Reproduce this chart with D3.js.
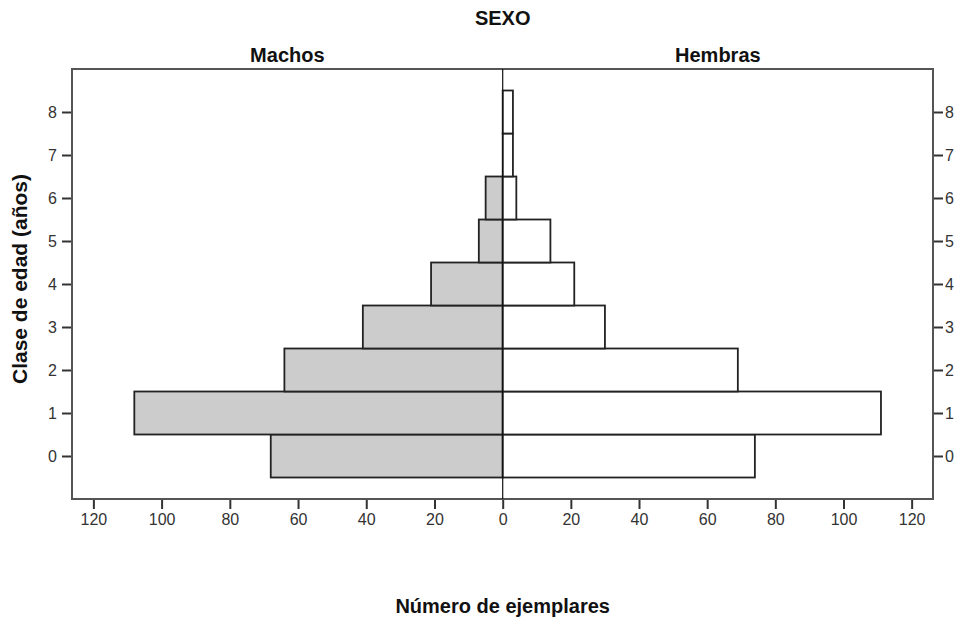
<!DOCTYPE html>
<html>
<head>
<meta charset="utf-8">
<script src="https://cdn.jsdelivr.net/npm/d3@7"></script>
<style>
  body { margin: 0; background: #fff; }
  svg { font-family: "Liberation Sans", Arial, sans-serif; }
  .tick text { fill: #333; font-size: 16px; }
</style>
</head>
<body>
<svg id="chart" width="960" height="619"></svg>
<script>
// edad (años) 0..8
const clases = [0, 1, 2, 3, 4, 5, 6, 7, 8];
const machos = [68, 108, 64, 41, 21, 7, 5, 0, 0];
const hembras = [74, 111, 69, 30, 21, 14, 4, 3, 3];
const xTicks = [0, 20, 40, 60, 80, 100, 120];

const svg = d3.select('#chart');
const pLeft = 72, pRight = 933, pTop = 69, pBottom = 499;
const mid = 502.7;
const maxX = (mid - pLeft) / 3.411;

const xL = d3.scaleLinear().domain([0, maxX]).range([mid, pLeft]);
const xR = d3.scaleLinear().domain([0, maxX]).range([mid, pRight]);
const y = d3.scaleLinear().domain([-1, 9]).range([pBottom, pTop]);

// bottom axes
const axL = svg.append('g').attr('transform', 'translate(0,' + pBottom + ')')
    .call(d3.axisBottom(xL).tickValues(xTicks).tickSize(10).tickPadding(5));
const axR = svg.append('g').attr('transform', 'translate(0,' + pBottom + ')')
    .call(d3.axisBottom(xR).tickValues(xTicks.slice(1)).tickSize(10).tickPadding(5));
// y axes (left and right)
const ayL = svg.append('g').attr('transform', 'translate(' + pLeft + ',0)')
    .call(d3.axisLeft(y).tickValues(clases).tickSize(10).tickPadding(5));
const ayR = svg.append('g').attr('transform', 'translate(' + pRight + ',0)')
    .call(d3.axisRight(y).tickValues(clases).tickSize(10).tickPadding(2));
[axL, axR, ayL, ayR].forEach(function(g){
    g.select('.domain').remove();
    g.selectAll('.tick line').attr('stroke', '#333').attr('stroke-width', 2);
});

// bars
const bh = y(0) - y(1);
svg.selectAll('.male')
    .data(clases.filter(function(c){ return machos[c] > 0; }))
    .enter().append('rect')
    .attr('class', 'male')
    .attr('x', function(c){ return xL(machos[c]); })
    .attr('y', function(c){ return y(c + 0.5); })
    .attr('width', function(c){ return xL(0) - xL(machos[c]); })
    .attr('height', bh)
    .attr('fill', '#cccccc')
    .attr('stroke', '#222')
    .attr('stroke-width', 1.8);

svg.selectAll('.female')
    .data(clases.filter(function(c){ return hembras[c] > 0; }))
    .enter().append('rect')
    .attr('class', 'female')
    .attr('x', xR(0))
    .attr('y', function(c){ return y(c + 0.5); })
    .attr('width', function(c){ return xR(hembras[c]) - xR(0); })
    .attr('height', bh)
    .attr('fill', '#fff')
    .attr('stroke', '#222')
    .attr('stroke-width', 1.8);

// frame + center line
svg.append('rect')
    .attr('x', pLeft).attr('y', pTop)
    .attr('width', pRight - pLeft).attr('height', pBottom - pTop)
    .attr('fill', 'none').attr('stroke', '#555').attr('stroke-width', 2);
svg.append('line')
    .attr('x1', mid).attr('x2', mid).attr('y1', pTop).attr('y2', pBottom)
    .attr('stroke', '#111').attr('stroke-width', 1.2);

// titles
const bold = function(t, x, yy, size){
    return svg.append('text').attr('x', x).attr('y', yy)
        .attr('text-anchor', 'middle').attr('font-weight', 'bold')
        .attr('font-size', size).attr('fill', '#111').text(t);
};
bold('SEXO', mid, 25, 20);
bold('Machos', (pLeft + mid) / 2, 62, 20);
bold('Hembras', (mid + pRight) / 2, 62, 20);
bold('Número de ejemplares', mid, 613, 20);
bold('Clase de edad (años)', 0, 0, 21)
    .attr('transform', 'translate(27,' + ((pTop + pBottom) / 2 - 5) + ') rotate(-90)');
</script>
</body>
</html>
